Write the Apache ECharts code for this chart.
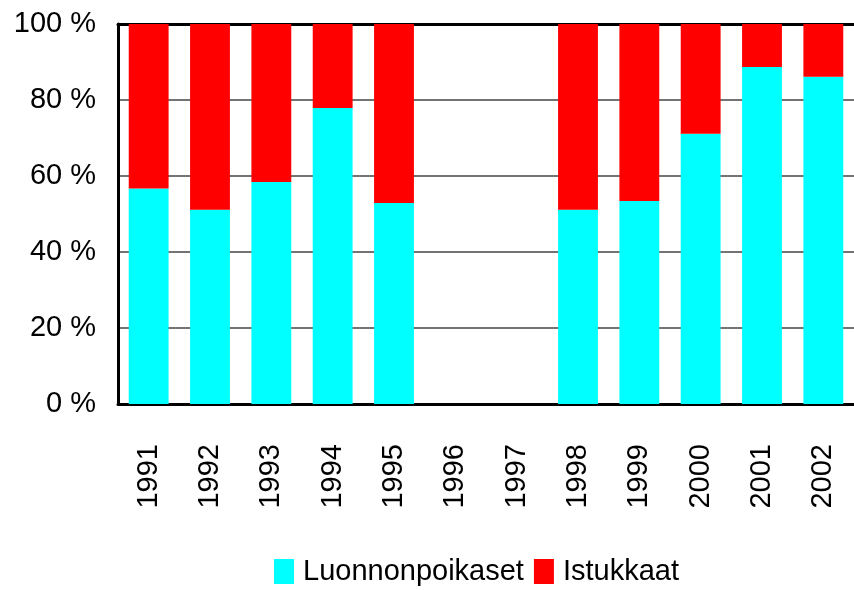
<!DOCTYPE html>
<html>
<head>
    <meta charset="utf-8">
    <title>Luonnonpoikaset / Istukkaat</title>
    <script src="https://cdn.jsdelivr.net/npm/echarts@6/dist/echarts.min.js"></script>
    <style>
    *{margin:0px; padding:0px;}
    body{background:#fff;}
    #main{width:854px; height:590px;}
    </style>
</head>
<body>
    <div id="main"></div>
    <script type="text/javascript">
        var years = ['1991','1992','1993','1994','1995','1996','1997','1998','1999','2000','2001','2002'];
        // osuudet prosentteina, luettu kuvasta
        var luonnonpoikaset = [56.7, 51.1, 58.4, 77.9, 52.9, null, null, 51.1, 53.4, 71.1, 88.7, 86.1];
        var istukkaat = [43.3, 48.9, 41.6, 22.1, 47.1, null, null, 48.9, 46.6, 28.9, 11.3, 13.9];

        var font = "'Liberation Sans', Arial, sans-serif";
        var myChart = echarts.init(document.getElementById('main'));

        var option = {
            animation: false,
            backgroundColor: '#fff',
            grid: {
                left: 118,
                right: -2,
                top: 24,
                bottom: 186
            },
            legend: {
                top: 552,
                left: 269,
                itemWidth: 20,
                itemHeight: 25,
                itemGap: 10,
                icon: 'rect',
                textStyle: {fontFamily: font, fontSize: 29, color: '#000', padding: [0, 0, 0, 4]},
                data: ['Luonnonpoikaset', 'Istukkaat']
            },
            xAxis: [{
                type: 'category',
                data: years,
                axisLine: {lineStyle: {color: '#000', width: 3}},
                axisTick: {show: false},
                axisLabel: {
                    rotate: 90,
                    margin: 40,
                    color: '#000',
                    fontFamily: font,
                    fontSize: 29,
                    interval: 0
                }
            }, {
                type: 'category',
                position: 'top',
                data: years,
                axisLine: {lineStyle: {color: '#000', width: 3}},
                axisTick: {show: false},
                axisLabel: {show: false}
            }],
            yAxis: {
                type: 'value',
                min: 0,
                max: 100,
                interval: 20,
                axisLine: {show: true, lineStyle: {color: '#000', width: 3}},
                axisTick: {show: false},
                axisLabel: {
                    formatter: '{value} %',
                    margin: 22,
                    color: '#000',
                    fontFamily: font,
                    fontSize: 29
                },
                splitLine: {lineStyle: {color: '#444', width: 1.5}}
            },
            series: [{
                name: 'Luonnonpoikaset',
                type: 'bar',
                stack: 'osuus',
                barWidth: '65%',
                itemStyle: {color: '#00ffff'},
                data: luonnonpoikaset
            }, {
                name: 'Istukkaat',
                type: 'bar',
                stack: 'osuus',
                barWidth: '65%',
                itemStyle: {color: '#ff0000'},
                data: istukkaat
            }]
        };

        myChart.setOption(option);
    </script>
</body>
</html>
